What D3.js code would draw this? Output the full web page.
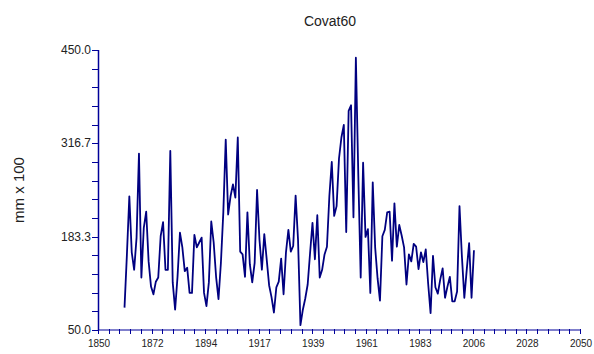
<!DOCTYPE html>
<html lang="en">
<head>
  <meta charset="UTF-8">
  <title>Covat60</title>
  <script src="https://d3js.org/d3.v7.min.js"></script>
  <style>
    body {
      margin: 0;
      background: #fff;
      font-family: 'Liberation Sans', Arial, sans-serif;
    }
  </style>
</head>
<body>
  <div id="chart"></div>
  <script>
    const startYear = 1861;
    const values = [
      82, 158, 241, 161, 136, 182, 302, 125, 196, 219,
      148, 112, 101, 119, 125, 184, 204, 136, 136, 306,
      118, 79, 126, 189, 168, 134, 139, 103, 103, 186,
      168, 175, 182, 103, 84, 118, 205, 175, 126, 94,
      146, 218, 322, 215, 241, 258, 239, 325, 162, 158,
      126, 218, 144, 118, 146, 250, 179, 136, 187, 151,
      114, 97, 75, 111, 119, 152, 101, 161, 193, 162,
      170, 242, 179, 57, 79, 95, 115, 160, 203, 151,
      214, 125, 136, 158, 169, 241, 290, 213, 227, 295,
      325, 343, 190, 363, 371, 211, 439, 273, 125, 289,
      183, 194, 103, 261, 168, 124, 92, 184, 193, 218,
      219, 149, 231, 169, 200, 185, 168, 115, 158, 148,
      173, 169, 137, 161, 147, 165, 116, 74, 156, 111,
      102, 122, 138, 96, 112, 126, 91, 91, 105, 227,
      155, 96, 136, 174, 96, 164
    ];
    const xTickLabels = ["1850", "1872", "1894", "1917", "1939", "1961", "1983", "2006", "2028", "2050"];
    const yTickLabels = ["50.0", "183.3", "316.7", "450.0"];

    const data = values.map((v, i) => ({ year: startYear + i, value: v }));

    const width = 594, height = 354;
    const margin = { top: 50, right: 14, bottom: 24, left: 98 };
    const axisColor = "#000099";

    const svg = d3.select("#chart").append("svg")
      .attr("width", width)
      .attr("height", height);

    const x = d3.scaleLinear().domain([1850, 2050]).range([margin.left, width - margin.right]);
    const y = d3.scaleLinear().domain([50, 450]).range([height - margin.bottom, margin.top]);

    // x axis: 9 labelled intervals, 5 minor steps each
    const xMajor = d3.range(10).map(i => 1850 + i * 200 / 9);
    const xMinor = d3.range(46).map(i => 1850 + i * 200 / 45);
    const gx = svg.append("g").attr("transform", `translate(0,${y(50)})`);
    gx.append("line")
      .attr("x1", x(1850)).attr("x2", x(2050))
      .attr("stroke", axisColor).attr("stroke-opacity", 0.5).attr("stroke-width", 2);
    gx.selectAll(".tick").data(xMinor).enter().append("line")
      .attr("x1", d => Math.round(x(d)) + 0.5).attr("x2", d => Math.round(x(d)) + 0.5)
      .attr("y1", -1).attr("y2", 4)
      .attr("stroke", axisColor).attr("stroke-width", 1);
    gx.selectAll(".lbl").data(xMajor).enter().append("text")
      .attr("x", d => x(d) + 1)
      .attr("y", 17)
      .attr("text-anchor", "middle")
      .style("font-size", "10px")
      .attr("fill", "#222")
      .text((d, i) => xTickLabels[i]);

    // y axis: 3 labelled intervals, 5 minor steps each
    const yMajor = d3.range(4).map(i => 50 + i * 400 / 3);
    const yMinor = d3.range(16).map(i => 50 + i * 400 / 15);
    const gy = svg.append("g").attr("transform", `translate(${x(1850)},0)`);
    gy.append("line")
      .attr("x1", 0.5).attr("x2", 0.5)
      .attr("y1", y(450)).attr("y2", y(50))
      .attr("stroke", axisColor).attr("stroke-width", 1.5);
    gy.selectAll(".tick").data(yMinor).enter().append("line")
      .attr("x1", -6).attr("x2", 0)
      .attr("y1", d => Math.round(y(d)) + 0.5).attr("y2", d => Math.round(y(d)) + 0.5)
      .attr("stroke", axisColor).attr("stroke-width", 1);
    gy.selectAll(".lbl").data(yMajor).enter().append("text")
      .attr("x", -7)
      .attr("y", d => y(d) + 4)
      .attr("text-anchor", "end")
      .style("font-size", "12px")
      .attr("fill", "#222")
      .text((d, i) => yTickLabels[i]);

    const line = d3.line()
      .x(d => x(d.year))
      .y(d => y(d.value));

    svg.append("path")
      .datum(data)
      .attr("fill", "none")
      .attr("stroke", "#000080")
      .attr("stroke-width", 1.8)
      .attr("stroke-linejoin", "round")
      .attr("d", line);

    svg.append("text")
      .attr("x", 330)
      .attr("y", 26)
      .attr("text-anchor", "middle")
      .style("font-size", "14px")
      .attr("fill", "#222")
      .text("Covat60");

    svg.append("text")
      .attr("transform", `translate(24,${(y(50) + y(450)) / 2}) rotate(-90)`)
      .attr("text-anchor", "middle")
      .style("font-size", "15px")
      .attr("fill", "#222")
      .text("mm x 100");
  </script>
</body>
</html>
